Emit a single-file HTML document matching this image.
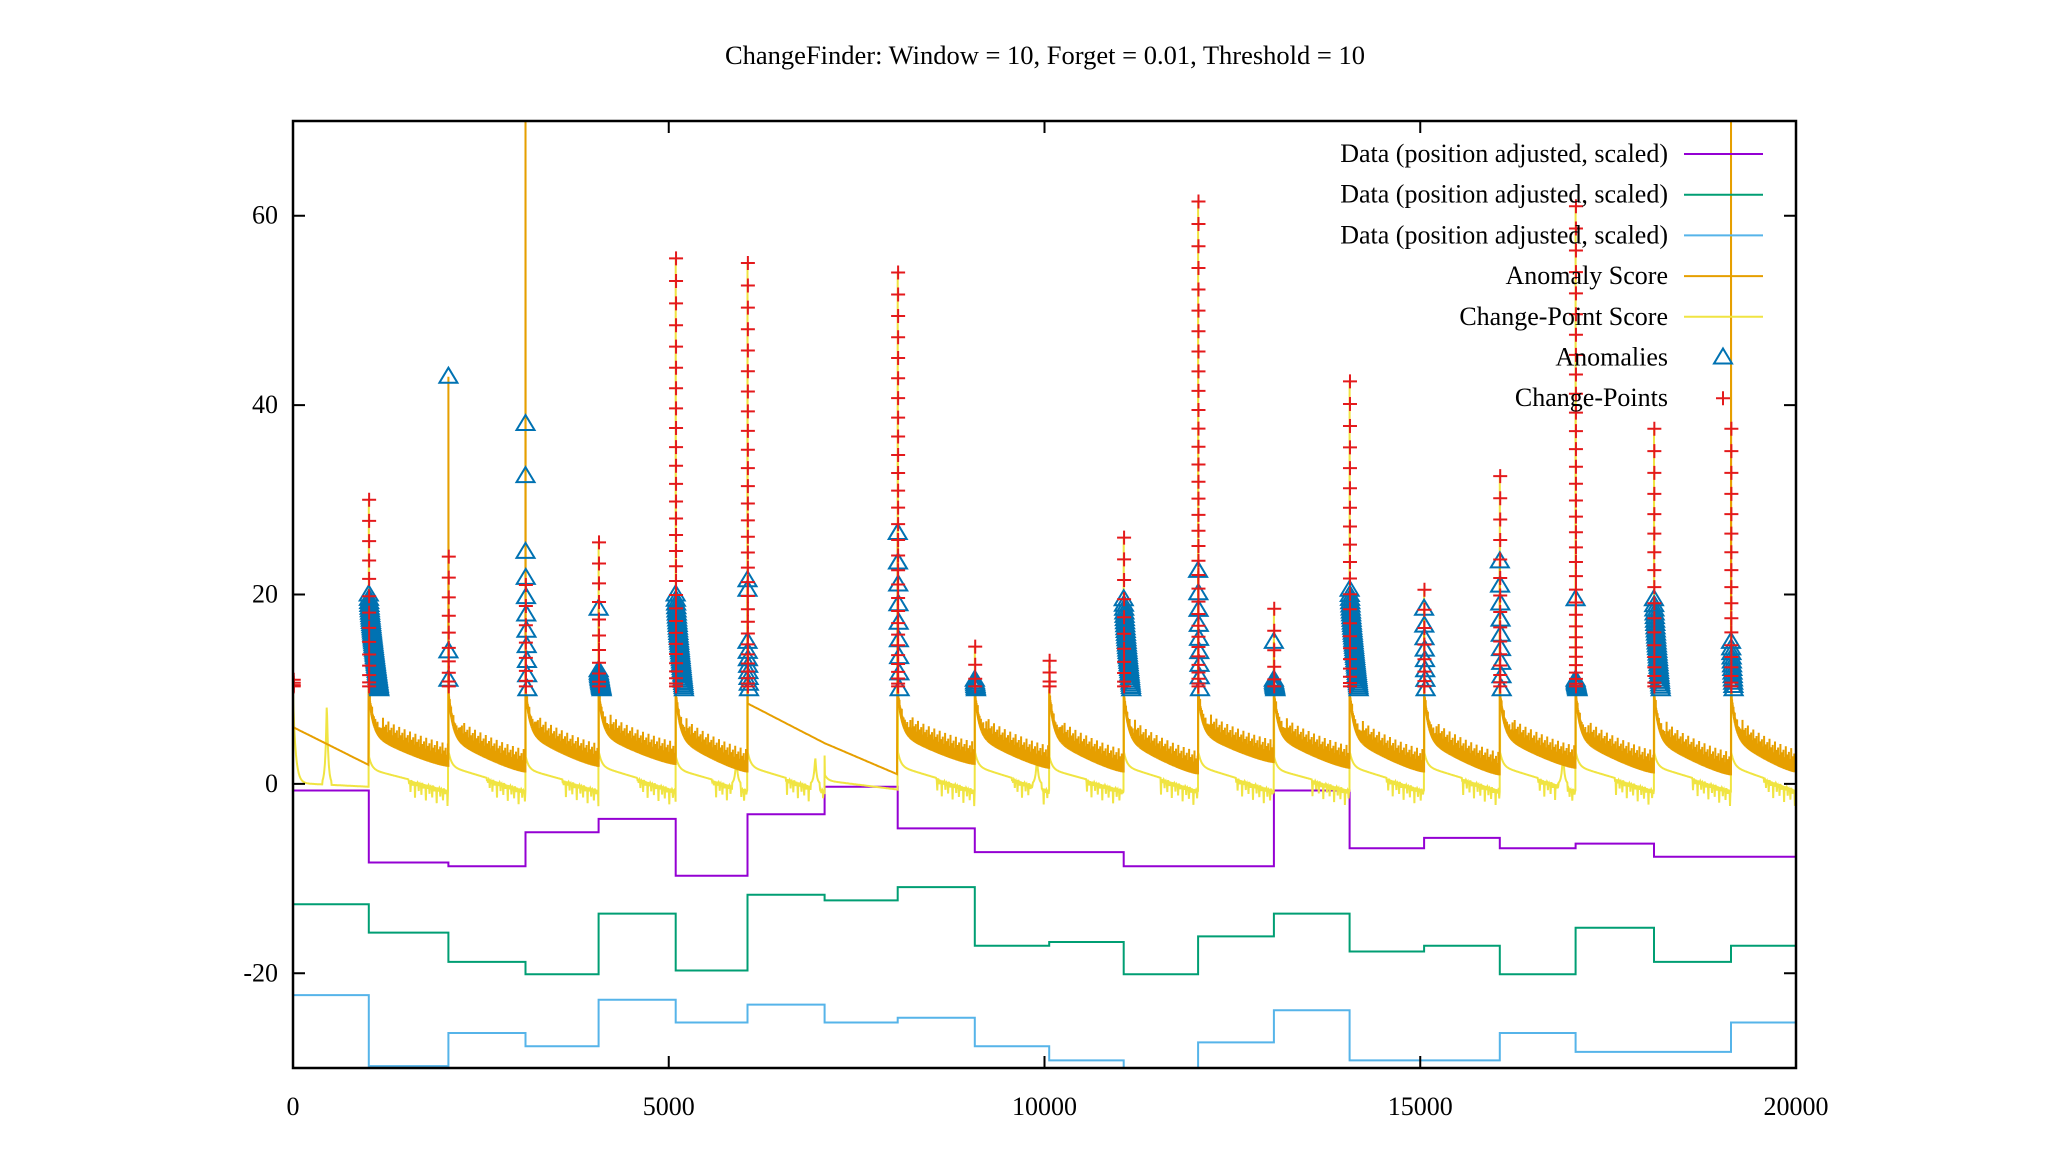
<!DOCTYPE html>
<html><head><meta charset="utf-8"><style>
html,body{margin:0;padding:0;background:#fff;}
svg{display:block;font-family:"Liberation Serif",serif;}
</style></head><body>
<svg id="chart" width="2048" height="1152" viewBox="0 0 2048 1152" xmlns="http://www.w3.org/2000/svg">
<defs><clipPath id="pc"><rect x="293" y="121" width="1503" height="947"/></clipPath></defs>
<rect width="2048" height="1152" fill="#fff"/>
<text x="1045" y="64" font-size="26.5" text-anchor="middle">ChangeFinder: Window = 10, Forget = 0.01, Threshold = 10</text>
<g id="series" clip-path="url(#pc)"></g>
<g id="axes"></g>
<g id="legend"></g>
</svg>
<script>
// ---- data ----
const bounds = [0,1008,2068,3094,4067,5092,6048,7074,8047,9073,10063,11054,12044,13052,14060,15051,16059,17067,18110,19135];
const purpleLevels = [-0.7,-8.3,-8.7,-5.1,-3.7,-9.7,-3.2,-0.3,-4.7,-7.2,-7.2,-8.7,-8.7,-0.7,-6.8,-5.7,-6.8,-6.3,-7.7,-7.7];
const greenLevels = [-12.7,-15.7,-18.8,-20.1,-13.7,-19.7,-11.7,-12.3,-10.9,-17.1,-16.7,-20.1,-16.1,-13.7,-17.7,-17.1,-20.1,-15.2,-18.8,-17.1];
const blueLevels = [-22.3,-29.8,-26.3,-27.7,-22.8,-25.2,-23.3,-25.2,-24.7,-27.7,-29.2,-31,-27.3,-23.9,-29.2,-29.2,-26.3,-28.3,-28.3,-25.2];
const anomPeak = [6,20,43,80,18.5,20,21.5,4.3,26.5,11,10,19.5,22.5,15,20.5,18.5,23.5,19.5,19.5,80];
const anomStart = [6,9.5,9.5,9.8,9.5,9.5,8.5,4.3,9.5,9.5,9.5,9.5,9.5,9.5,9.5,9.5,9.5,9.5,9.5,9.5];
const anomEnd = [2,2.2,1.6,2.2,2.4,1.6,4.3,1,2.4,2,1.6,1.4,2.6,2,1.6,1.3,2,1.5,1.3,1.6];
const anomNoisy = [0,1,1,1,1,1,0,0,1,1,1,1,1,1,1,1,1,1,1,1];
const cpTop = [11,30,24,21,25.5,55.5,55,3,54,14.5,13,26,61.5,18.5,42.5,20.5,32.5,61,37.5,37.5];
const cpStart = [9,3,3.5,3,3.5,3,3.5,1,3.5,3.5,3,3.5,3.5,3,3.5,3.5,3.5,3.5,3.5,3.5];
const triTop = [0,20,0,24.5,12,20,15,0,26.5,11,0,19.5,22.5,11,20.5,18.5,23.5,11,19.5,15];
const triWidth = [0,140,0,25,40,110,20,0,25,15,0,100,25,20,120,20,25,25,90,35];
const triExtra = [[],[],[43,14,11],[38,32.5],[18.5],[],[21.5,20.5],[],[],[],[],[],[],[15],[],[],[],[19.5],[],[]];
const yellowBumps = [[450,9],[5900,3],[6950,3],[9900,3],[16900,3.5]];
const noisePattern = [0.2,0.6,0.1,0.3,1.6,0.2,0.0,0.5,0.1,0.7,0.3,0.1,0.5,0.2,2.2,0.1,0.4,0.1,0.6,0.3,0.1,0.2,1.2,0.3];
const xTicks = [0,5000,10000,15000,20000];
const yTicks = [-20,0,20,40,60];

// ---- axes functions ----
const L=293,R=1796,T=121,B=1068,XMAX=20000,YMIN=-30,YMAX=70;
const X=v=>L+(v/XMAX)*(R-L);
const Y=v=>T+(YMAX-v)/(YMAX-YMIN)*(B-T);
const NS="http://www.w3.org/2000/svg";
const series=document.getElementById('series');
const axes=document.getElementById('axes');
const legend=document.getElementById('legend');
function mk(tag,attrs,parent){const e=document.createElementNS(NS,tag);for(const k in attrs)e.setAttribute(k,attrs[k]);parent.appendChild(e);return e;}
function segEnd(i){return i+1<bounds.length?bounds[i+1]:XMAX;}

function stepPath(levels){let d='';for(let i=0;i<bounds.length;i++){const x0=X(bounds[i]),x1=X(segEnd(i)),y=Y(levels[i]);d+=(i===0?'M':'L')+x0.toFixed(1)+','+y.toFixed(1)+'L'+x1.toFixed(1)+','+y.toFixed(1);}return d;}
const p1=mk('path',{d:stepPath(purpleLevels),fill:'none',stroke:'#9400d3','stroke-width':2},series);


const p2=mk('path',{d:stepPath(greenLevels),fill:'none',stroke:'#009e73','stroke-width':2},series);


const p3=mk('path',{d:stepPath(blueLevels),fill:'none',stroke:'#56b4e9','stroke-width':2},series);



// change-point score (yellow)
let yd='';let ni=0;
for(let i=0;i<bounds.length;i++){
  const b=bounds[i],e=segEnd(i),Lseg=e-b;
  yd+=(i===0?'M':'L')+X(b).toFixed(1)+','+Y(cpTop[i]).toFixed(1);
  for(let t=4;t<Lseg;t+=6){
    const f=t/Lseg;
    let v=-0.6+(cpStart[i]+0.6)*(0.4*Math.exp(-t/40)+0.6*(1-f));
    if(i===0)v=-0.3+9.3*Math.exp(-t/35)+0.4*(1-f);
    if(f>0.5&&i!==0&&i!==7){v-=noisePattern[ni%noisePattern.length]*0.8;ni++;}
    for(const bp of yellowBumps){const dx=b+t-bp[0];if(Math.abs(dx)<60)v=Math.max(v,bp[1]*Math.exp(-Math.abs(dx)/18));}
    yd+='L'+X(b+t).toFixed(1)+','+Y(v).toFixed(1);
  }
}
const yl=mk('path',{d:yd,fill:'none',stroke:'#f0e442','stroke-width':2},series);



// anomaly score (orange)
let od='';ni=0;
for(let i=0;i<bounds.length;i++){
  const b=bounds[i],e=segEnd(i),Lseg=e-b;
  od+=(i===0?'M':'L')+X(b).toFixed(1)+','+Y(anomPeak[i]).toFixed(1);
  const s=anomStart[i],en=anomEnd[i];
  for(let t=3;t<Lseg;t+=anomNoisy[i]?3:20){
    const f=t/Lseg;
    let v;
    if(anomNoisy[i]) v=en+(s-en)*(0.55*Math.exp(-t/60)+0.45*Math.pow(1-f,1.3));
    else v=s+(en-s)*f;
    if(anomNoisy[i]){
      const n1=noisePattern[ni%noisePattern.length];ni++;
      od+='L'+X(b+t).toFixed(1)+','+Y(v+0.3+n1*(f>0.15?0.8:0.3)).toFixed(1);
      od+='L'+X(b+t+1.5).toFixed(1)+','+Y(v-0.4).toFixed(1);
    } else od+='L'+X(b+t).toFixed(1)+','+Y(v).toFixed(1);
  }
}
const ol=mk('path',{d:od,fill:'none',stroke:'#e69f00','stroke-width':2},series);



// markers
function tri(x,y,parent){const s=9;const t=mk('path',{d:`M${x},${y-s}L${x+s},${y+6}L${x-s},${y+6}Z`,fill:'none',stroke:'#0072b2','stroke-width':2},parent);
return t;}
function cross(x,y,parent){const s=7;const c=mk('path',{d:`M${x-s},${y}H${x+s}M${x},${y-s}V${y+s}`,fill:'none',stroke:'#e41a1c','stroke-width':2},parent);
return c;}
const triG=mk('g',{},series);


const crG=mk('g',{},series);


for(let i=0;i<bounds.length;i++){
  const b=bounds[i];
  if(triTop[i]>0){
    const n=Math.max(4,Math.round(triWidth[i]/3));
    for(let k=0;k<=n;k++){const f=k/n;const v=triTop[i]-(triTop[i]-10)*Math.pow(f,0.8);tri(X(b+f*triWidth[i]),Y(v),triG);}
  }
  for(const v of triExtra[i])tri(X(b),Y(v),triG);
  if(cpTop[i]>10){
    const n=Math.max(3,Math.round((cpTop[i]-10)/1.6));
    for(let k=0;k<=n;k++){const v=10.3+(cpTop[i]-10.3)*Math.pow(k/n,1.5);cross(X(b+(i===0?10:5)),Y(v),crG);}
  }
}

// axes frame & ticks
const fr=mk('rect',{x:L,y:T,width:R-L,height:B-T,fill:'none',stroke:'#000','stroke-width':2.5},axes);


for(const v of xTicks){
  const x=X(v);
  mk('path',{d:`M${x},${B}v-12M${x},${T}v12`,stroke:'#000','stroke-width':2},axes);
  const t=mk('text',{x:x,y:1115,'font-size':26,'text-anchor':'middle'},axes);t.textContent=v;
  
  
}
for(const v of yTicks){
  const y=Y(v);
  mk('path',{d:`M${L},${y}h12M${R},${y}h-12`,stroke:'#000','stroke-width':2},axes);
  const t=mk('text',{x:278,y:y+8,'font-size':26,'text-anchor':'end'},axes);t.textContent=v;
  
  
}

// legend
const legLabels=['Data (position adjusted, scaled)','Data (position adjusted, scaled)','Data (position adjusted, scaled)','Anomaly Score','Change-Point Score','Anomalies','Change-Points'];
const legColors=['#9400d3','#009e73','#56b4e9','#e69f00','#f0e442','#0072b2','#e41a1c'];
for(let i=0;i<legLabels.length;i++){
  const y=154+i*40.7;
  const t=mk('text',{x:1668,y:y+8,'font-size':26,'text-anchor':'end'},legend);t.textContent=legLabels[i];
  
  
  if(i<5){const l=mk('path',{d:`M1684,${y}H1763`,stroke:legColors[i],'stroke-width':2},legend);
    
    }
  else if(i===5)tri(1723,y,legend);
  else cross(1723,y,legend);
}
</script>
</body></html>
